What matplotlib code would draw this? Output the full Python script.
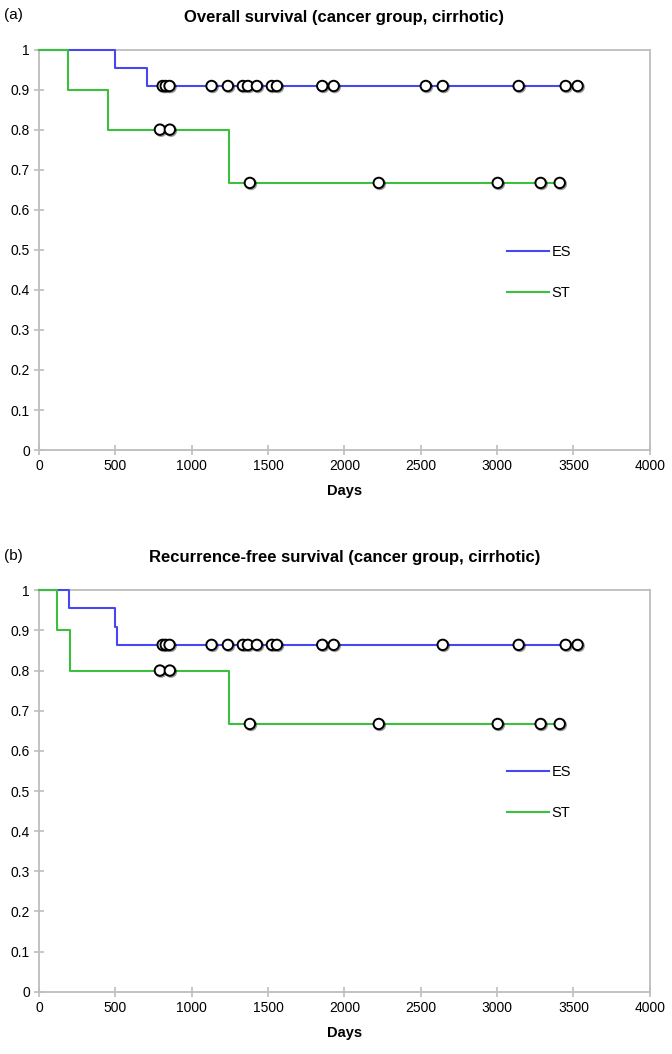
import matplotlib
matplotlib.use("Agg")
import matplotlib.pyplot as plt
import matplotlib.patheffects as pe
import numpy as np

plt.rcParams["font.family"] = ["Liberation Sans", "DejaVu Sans"]

# (a) overall survival: step times (days) and survival after each step
A_ES_T = [0, 497, 707, 3527]
A_ES_S = [1.0, 0.955, 0.909, 0.909]
A_ES_CENS = [810, 830, 855, 1130, 1237, 1335, 1368, 1427, 1525, 1558,
             1855, 1930, 2533, 2644, 3141, 3449, 3527]
A_ST_T = [0, 190, 452, 1243, 3410]
A_ST_S = [1.0, 0.9, 0.8, 0.667, 0.667]
A_ST_CENS = [792, 857, 1381, 2225, 3004, 3285, 3410]

# (b) recurrence-free survival
B_ES_T = [0, 196, 497, 511, 3527]
B_ES_S = [1.0, 0.955, 0.909, 0.864, 0.864]
B_ES_CENS = [810, 830, 855, 1130, 1237, 1335, 1368, 1427, 1525, 1558,
             1855, 1930, 2644, 3141, 3449, 3527]
B_ST_T = [0, 118, 203, 1243, 3410]
B_ST_S = [1.0, 0.9, 0.8, 0.667, 0.667]
B_ST_CENS = [792, 857, 1381, 2225, 3004, 3285, 3410]

PANELS = [
    ("(a)", "Overall survival (cancer group, cirrhotic)",
     (A_ES_T, A_ES_S, A_ES_CENS), (A_ST_T, A_ST_S, A_ST_CENS), 0.443),
    ("(b)", "Recurrence-free survival (cancer group, cirrhotic)",
     (B_ES_T, B_ES_S, B_ES_CENS), (B_ST_T, B_ST_S, B_ST_CENS), 0.496),
]

ES_COLOR = "#4646f2"
ST_COLOR = "#3cbf3c"
SPINE = "#bdbdbd"


def km_value(times, surv, t):
    i = np.searchsorted(times, t, side="right") - 1
    return np.asarray(surv)[i]


fig = plt.figure(figsize=(6.72, 10.54), dpi=100)
boxes = [[0.058, 0.573, 0.909, 0.380], [0.058, 0.059, 0.909, 0.381]]

for box, (tag, title, es, st, legy) in zip(boxes, PANELS):
    ax = fig.add_axes(box)
    for (t, s, cens), col, lab in [(es, ES_COLOR, "ES"), (st, ST_COLOR, "ST")]:
        ax.step(t, s, where="post", color=col, lw=1.5, label=lab, zorder=3,
                clip_on=False)
        ax.plot(cens, km_value(t, s, cens), "o", ms=7.5, mfc="white",
                mec="black", mew=1.4, zorder=4, clip_on=False,
                path_effects=[pe.SimpleLineShadow(offset=(0.8, -0.8), alpha=0.4),
                              pe.Normal()])
    ax.set_xlim(0, 4000)
    ax.set_ylim(0, 1)
    ax.set_xticks(np.arange(0, 4001, 500))
    ax.set_yticks(np.arange(0, 1.01, 0.1))
    ax.set_yticklabels(["0"] + [f"{v:.1f}" for v in np.arange(0.1, 0.95, 0.1)] + ["1"])
    for sp in ax.spines.values():
        sp.set_color(SPINE)
        sp.set_linewidth(1.3)
    ax.tick_params(direction="inout", length=7, width=1.2, color=SPINE,
                   labelsize=10, pad=3)
    ax.set_xlabel("Days", fontsize=10.5, fontweight="bold", labelpad=8)
    ax.set_title(title, fontsize=12, fontweight="bold", pad=20)
    ax.text(-0.058, 1.085, tag, transform=ax.transAxes, fontsize=11,
            ha="left", va="center")
    ax.legend(loc="center left", bbox_to_anchor=(0.745, legy), frameon=False,
              fontsize=10.5, handlelength=2.9, handletextpad=0.15,
              labelspacing=1.9)

fig.savefig("out.png", dpi=100)
